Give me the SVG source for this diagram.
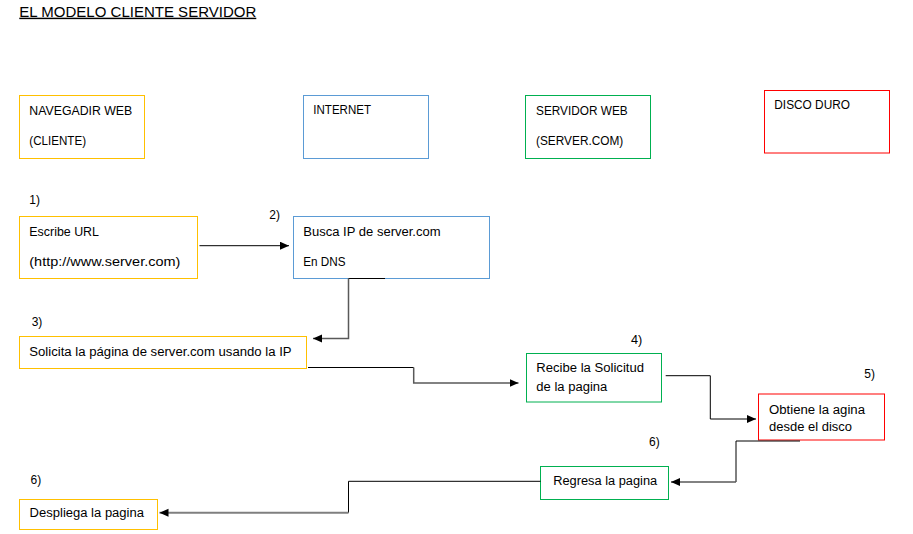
<svg xmlns="http://www.w3.org/2000/svg" width="913" height="534" viewBox="0 0 913 534">
<style>
text{font-family:"Liberation Sans",Arial,sans-serif;font-size:12.5px;fill:#000}
.title{font-size:14.5px;text-decoration:underline}
.box{fill:#fff;stroke-width:1}
.y{stroke:#FFC000}.b{stroke:#5B9BD5}.g{stroke:#00B050}.r{stroke:#FF0000}
.k{fill:none;stroke:#000;stroke-width:1}
.gr{fill:none;stroke:#595959;stroke-width:1.5}
.gl{fill:none;stroke:#7F7F7F;stroke-width:2}
</style>
<defs>
<marker id="ah" markerUnits="userSpaceOnUse" markerWidth="10" markerHeight="9" refX="9" refY="4" orient="auto">
<path d="M0,0 L9,4 L0,8 z" fill="#000"/>
</marker>
</defs>
<rect width="913" height="534" fill="#fff"/>
<text class="title" x="19.3" y="16.7" textLength="237" lengthAdjust="spacingAndGlyphs">EL MODELO CLIENTE SERVIDOR</text>

<g id="navegador">
<rect class="box y" x="19.5" y="95.5" width="125" height="63"/>
<text x="29.3" y="114.7" textLength="103" lengthAdjust="spacingAndGlyphs">NAVEGADIR WEB</text>
<text x="29.3" y="144.5" textLength="56.7" lengthAdjust="spacingAndGlyphs">(CLIENTE)</text>
</g>
<g id="internet">
<rect class="box b" x="303.5" y="95.5" width="125" height="63"/>
<text x="313.3" y="114.3" textLength="57.7" lengthAdjust="spacingAndGlyphs">INTERNET</text>
</g>
<g id="servidor">
<rect class="box g" x="525.5" y="95.5" width="125" height="63"/>
<text x="536" y="114.7" textLength="91.7" lengthAdjust="spacingAndGlyphs">SERVIDOR WEB</text>
<text x="536" y="145" textLength="87.3" lengthAdjust="spacingAndGlyphs">(SERVER.COM)</text>
</g>
<g id="disco">
<rect class="box r" x="764.5" y="90.5" width="125" height="62.5"/>
<text x="774.3" y="109" textLength="75.7" lengthAdjust="spacingAndGlyphs">DISCO DURO</text>
</g>

<g id="paso1">
<text x="29.3" y="204" textLength="10.7" lengthAdjust="spacingAndGlyphs">1)</text>
<rect class="box y" x="19.5" y="216.5" width="178" height="62"/>
<text x="29.3" y="236" textLength="69.7" lengthAdjust="spacingAndGlyphs">Escribe URL</text>
<text x="29.3" y="266" textLength="151" lengthAdjust="spacingAndGlyphs">(http://www.server.com)</text>
</g>
<g id="paso2">
<text x="269.3" y="219" textLength="10.7" lengthAdjust="spacingAndGlyphs">2)</text>
<rect class="box b" x="293.5" y="216.5" width="196" height="62"/>
<text x="303.3" y="236" textLength="137.3" lengthAdjust="spacingAndGlyphs">Busca IP de server.com</text>
<text x="303.3" y="266" textLength="42.3" lengthAdjust="spacingAndGlyphs">En DNS</text>
</g>
<g id="paso3">
<text x="31.7" y="326" textLength="10.7" lengthAdjust="spacingAndGlyphs">3)</text>
<rect class="box y" x="19.5" y="336.5" width="287" height="32"/>
<text x="29.3" y="356" textLength="262.3" lengthAdjust="spacingAndGlyphs">Solicita la página de server.com usando la IP</text>
</g>
<g id="paso4">
<text x="631" y="343.7" textLength="11.3" lengthAdjust="spacingAndGlyphs">4)</text>
<rect class="box g" x="526.5" y="353.5" width="135" height="48.5"/>
<text x="536.3" y="372.3" textLength="107.7" lengthAdjust="spacingAndGlyphs">Recibe la Solicitud</text>
<text x="536.3" y="391" textLength="71" lengthAdjust="spacingAndGlyphs">de la pagina</text>
</g>
<g id="paso5">
<text x="864.3" y="378" textLength="10.7" lengthAdjust="spacingAndGlyphs">5)</text>
<rect class="box r" x="758.5" y="394" width="126" height="46"/>
<text x="769" y="414.3" textLength="96" lengthAdjust="spacingAndGlyphs">Obtiene la agina</text>
<text x="769" y="430.7" textLength="83" lengthAdjust="spacingAndGlyphs">desde el disco</text>
</g>
<g id="paso6">
<text x="649" y="446" textLength="10.7" lengthAdjust="spacingAndGlyphs">6)</text>
<rect class="box g" x="540.5" y="466.5" width="128" height="33"/>
<text x="553.2" y="485" textLength="104" lengthAdjust="spacingAndGlyphs">Regresa la pagina</text>
</g>
<g id="paso7">
<text x="30.5" y="484" textLength="10.7" lengthAdjust="spacingAndGlyphs">6)</text>
<rect class="box y" x="19.5" y="499.5" width="138" height="30"/>
<text x="29.6" y="517.3" textLength="114.4" lengthAdjust="spacingAndGlyphs">Despliega la pagina</text>
</g>

<g id="connectors">
<path class="k" d="M199.5,245.7 H289" marker-end="url(#ah)"/>
<path class="k" d="M348.5,278.5 H385"/>
<path class="gr" d="M348.5,278.5 V338.5 H313" marker-end="url(#ah)"/>
<path class="k" d="M308,367.5 H413.7"/>
<path class="gr" d="M413.7,367.5 V383 H518.5" marker-end="url(#ah)"/>
<path class="k" d="M665.7,375.7 H710.3 V419 H756" marker-end="url(#ah)"/>
<path class="k" d="M800,441 H736 V482"/>
<path class="gr" d="M736,482 H671" marker-end="url(#ah)"/>
<path class="k" d="M540.6,481.3 H348.5 V512.7"/>
<path class="gl" d="M348.5,512.7 H159.5" marker-end="url(#ah)"/>
</g>
</svg>
